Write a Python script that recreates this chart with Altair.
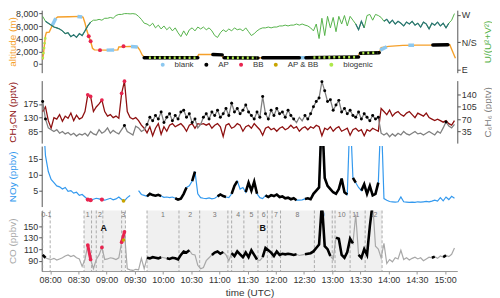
import altair as alt
import pandas as pd

FONT = "Liberation Sans"
W = 419
H1, H2, H3, H4 = 63, 63, 61, 61
X_DOMAIN = [471, 913]          # 07:51 .. 15:13 in minutes after midnight


def hm(s):
    h, m = s.split(":")
    return int(h) * 60 + int(m)


# 3-minute read-off grid (minutes after midnight) for the gas and wind series
GRID = [472 + 3 * k for k in range(147)]

# ---------------- altitude panel ----------------
ALT_T = ["07:52", "07:53", "07:54", "07:55", "07:56", "07:59", "08:01", "08:03", "08:05", "08:08",
         "08:20", "08:33", "08:35", "08:37", "08:39", "08:41", "08:43", "08:45", "08:47", "09:00",
         "09:12", "09:13", "09:25", "09:33", "09:35", "09:38", "09:41", "09:50", "10:10", "10:36",
         "10:38", "10:50", "11:02", "11:04", "11:25", "11:50", "12:20", "12:45", "13:10", "13:27",
         "13:29", "13:50", "13:52", "14:00", "14:15", "14:30", "14:50", "15:05", "15:08", "15:11"]
ALT_V = [700, 1800, 3200, 4500, 5000, 5050, 5700, 6400, 7100, 7450,
         7500, 7550, 7400, 6500, 5300, 4400, 3600, 2500, 2250, 2200,
         2250, 2700, 2800, 2700, 2300, 1400, 1000, 1000, 950, 1000,
         1500, 1500, 1450, 1000, 950, 1000, 1000, 1050, 1050, 1100,
         1700, 1800, 2600, 2800, 2950, 3000, 3000, 3050, 2000, 900]

BLANK_SEGS = [("08:02", 6050, "08:06", 7250), ("08:29", 7540, "08:34", 7450),
              ("09:00", 2200, "09:08", 2220), ("09:26", 2790, "09:33", 2700),
              ("12:25", 1000, "12:32", 1010), ("13:51", 2200, "13:58", 2750),
              ("14:21", 2980, "14:27", 2990)]
AP_SEGS = [("09:40", 1000, "10:37", 1000), ("10:53", 1500, "11:03", 1450),
           ("11:05", 980, "11:41", 970), ("11:46", 1000, "12:25", 1000),
           ("12:32", 1010, "13:28", 1100), ("13:30", 1720, "13:50", 1800),
           ("14:47", 3000, "15:03", 3040)]
BIO_SEGS = [("07:52", 800, "07:55", 4400), ("09:45", 1000, "10:35", 1000),
            ("11:08", 975, "11:40", 970), ("12:40", 1030, "13:26", 1100),
            ("13:32", 1730, "13:48", 1800)]
BB_ALT_T = ["08:41", "08:43", "08:53", "09:18"]
BB_ALT_V = [4400, 3600, 2200, 2800]

CATS = ["blank", "AP", "BB", "AP & BB", "biogenic"]
CAT_COLORS = ["#8cc8f0", "#000000", "#e8244f", "#c8a400", "#aee84a"]

# wind direction U/(U^2+V^2)  (W = 1, N/S = 0, E = -1)
WIND = [0.95, 0.77, 0.70, 0.63, 0.56, 0.53, 0.49, 0.42, 0.32, 0.35,
        0.21, 0.28, 0.18, 0.32, 0.25, 0.42, 0.60, 0.74, 0.81, 0.81,
        0.84, 0.81, 0.88, 0.88, 0.91, 0.88, 0.98, 1.02, 1.02, 1.05,
        1.05, 1.04, 1.05, 1.03, 0.95, 0.84, 0.70, 0.67, 0.60, 0.70,
        0.53, 0.63, 0.49, 0.60, 0.46, 0.56, 0.42, 0.53, 0.35, 0.21,
        0.42, 0.25, 0.46, 0.53, 0.42, 0.56, 0.49, 0.56, 0.46, 0.53,
        0.42, 0.25, 0.18, 0.35, 0.46, 0.39, 0.49, 0.42, 0.53, 0.46,
        0.49, 0.42, 0.53, 0.39, 0.25, 0.32, 0.42, 0.49, 0.53, 0.53,
        0.56, 0.53, 0.56, 0.56, 0.60, 0.60, 0.63, 0.60, 0.63, 0.63,
        0.67, 0.63, 0.67, 0.63, 0.60, 0.53, 0.42, 0.67, 0.14, 0.88,
        0.25, 0.95, 0.53, 0.91, 0.39, 0.95, 0.67, 0.98, 0.60, 0.95,
        0.81, 0.67, 0.46, 0.77, 0.53, 0.98, 1.02, 0.81, 1.02, 0.98,
        0.91, 0.77, 0.84, 0.70, 0.81, 0.67, 0.77, 0.70, 0.60, 0.74,
        0.67, 0.77, 0.63, 0.70, 0.56, 0.74, 0.67, 0.49, 0.70, 0.63,
        0.74, 0.60, 0.70, 0.53, 0.70, 0.81, 1.05]
WIND_TEAL = [(1, 17), (111, 114), (121, 144)]

# ---------------- CH3CN / C6H6 ----------------
CH3CN = [150, 165, 120, 95, 130, 125, 140, 118, 135, 128,
         145, 120, 138, 125, 130, 150, 205, 200, 150, 165,
         175, 188, 150, 135, 140, 130, 135, 128, 210, 250,
         150, 130, 125, 130, 120, 105, 95, 80, 100, 70,
         95, 110, 75, 100, 85, 105, 110, 100, 105, 110,
         100, 85, 105, 110, 95, 110, 108, 110, 105, 110,
         95, 105, 110, 100, 68, 105, 110, 95, 100, 110,
         105, 85, 100, 105, 95, 110, 100, 90, 72, 95,
         100, 90, 95, 85, 95, 100, 90, 95, 105, 95,
         100, 85, 95, 100, 90, 100, 95, 105, 100, 70,
         95, 90, 100, 85, 95, 100, 85, 90, 95, 72,
         90, 95, 85, 90, 70, 90, 85, 95, 90, 85,
         160, 150, 140, 155, 135, 145, 150, 140, 135, 145,
         150, 140, 130, 145, 140, 135, 145, 130, 125, 120,
         125, 120, 115, 120, 110, 105, 120]
CH3CN_BB = [(16, 17), (21, 21), (28, 29)]

C6H6 = [120, 70, 45, 40, 35, 40, 30, 35, 28, 32,
        25, 30, 22, 28, 25, 30, 22, 35, 28, 25,
        40, 30, 35, 45, 30, 38, 32, 28, 40, 52,
        35, 30, 25, 50, 45, 35, 40, 55, 75, 65,
        80, 70, 90, 60, 75, 85, 65, 80, 70, 90,
        95, 75, 85, 60, 70, 45, 55, 75, 85, 70,
        90, 80, 95, 75, 85, 100, 80, 115, 90, 100,
        85, 95, 110, 90, 80, 70, 90, 75, 134, 85,
        70, 95, 80, 100, 85, 90, 75, 95, 80, 70,
        60, 75, 65, 80, 70, 85, 105, 120, 130, 176,
        150, 120, 125, 95, 110, 123, 90, 100, 85, 95,
        80, 75, 90, 70, 85, 75, 65, 80, 70, 75,
        30, 25, 30, 20, 28, 22, 30, 25, 35, 28,
        25, 30, 35, 28, 30, 25, 30, 35, 30, 25,
        35, 30, 45, 62, 50, 45, 55]
C6H6_AP = [(0, 1), (29, 29), (37, 54), (57, 89), (93, 119), (143, 143)]

# ---------------- NOy ----------------
NOY = [30, 16, 11, 8.5, 7.5, 6.5, 6.2, 5.5, 6.0, 4.8,
       5.0, 4.2, 4.5, 3.5, 3.8, 3.0, 2.2, 2.0, 2.3, 2.6,
       2.4, 2.2, 2.0, 2.3, 2.6, 2.1, 2.4, 3.0, 2.2, 1.8,
       2.8, 3.5, None, None, 5.0, 3.8, 3.5, 3.2, 4.0, 3.6,
       3.4, 3.7, 3.3, 2.9, 3.0, 2.8, 3.0, 2.6, 2.2, 2.5,
       4.0, 6.0, 6.5, 8.0, 11.0, 4.0, 2.8, 2.6, 2.5, 2.7,
       2.4, 2.6, 3.2, 3.8, 3.3, 3.0, 2.8, 4.0, 6.5, 8.0,
       5.5, 6.0, 4.5, 7.5, 5.0, 7.8, 4.0, 2.8, 2.5, 3.5,
       3.0, 3.6, 3.3, 3.8, 3.0, 3.2, 2.6, 2.8, 2.3, 2.6,
       2.0, 2.0, 2.1, 2.4, 2.6, 2.3, 4.0, 5.0, 6.0, 30,
       9.0, 6.5, 5.5, 4.5, 4.0, 5.5, 8.8, 4.5, 3.8, 30,
       9.0, 7.5, 6.0, 5.0, 7.0, 4.0, 6.5, 3.5, 4.0, 7.5,
       30, 2.5, 2.0, 1.6, 1.5, 1.4, 1.5, 3.0, 1.5, 1.4,
       1.3, 1.4, 1.3, 1.5, 1.4, 1.5, 1.6, 1.5, 1.7, 2.0,
       1.7, 2.8, 1.8, 3.0, 2.2, 3.2, 2.6]
NOY_AP = [(37, 42), (47, 51), (53, 54), (62, 65), (67, 69), (72, 76), (79, 90),
          (93, 108), (110, 111), (113, 119)]
NOY_BB = [(16, 17), (21, 21)]

# ---------------- CO ----------------
CO = [100, 95, 93, 92, 94, 91, 93, 95, 98, 100,
      97, 99, 95, 93, 80, 92, 117, 92, 76, 92,
      100, 113, 92, 93, 95, 94, 92, 95, 122, 140,
      76, 74, 73, 75, 74, 94, 76, 95, 94, 96,
      95, 94, 96, 95, 94, 93, 95, 94, 92, 100,
      106, 104, 108, 101, 100, 82, 76, 78, 90, 95,
      100, 104, 106, 102, 105, 100, 90, 103, 98, 106,
      101, 96, 104, 96, 108, 100, 92, 90, 96, 112,
      108, 104, 98, 106, 100, 102, 101, 102, 101, 100,
      101, 99, 100, 101, 102, 103, 106, 112, 118, 190,
      115, 110, 98, 92, 130, 128, 100, 95, 105, 128,
      120, 170, 100, 95, 110, 100, 150, 190, 115, 110,
      95, 120, 85, 92, 88, 95, 93, 108, 92, 95,
      91, 94, 96, 93, 95, 90, 93, 96, 95, 97,
      94, 98, 96, 99, 97, 101, 112]
CO_AP = [(0, 1), (37, 42), (44, 52), (60, 64), (67, 76), (78, 90), (93, 102),
         (104, 110), (112, 117), (138, 139), (142, 143)]
CO_BB = [(16, 17), (21, 21), (28, 29)]

APBB_T = ["09:18"]
APBB_CO = [126]
APBB_NOY = [1.8]

BANDS = [("08:36", "09:20"), ("09:43", "13:53")]
SEG_LINES = ["07:52", "08:00", "08:36", "08:44", "08:49", "08:56", "09:16", "09:20",
             "09:43", "10:17", "10:39", "11:09", "11:13", "11:26", "11:41", "11:51",
             "11:56", "12:05", "12:41", "13:00", "13:03", "13:19", "13:35", "13:53"]
SEG_LABEL_T = ["07:56", "08:40", "08:53", "09:18", "10:00", "10:29", "10:55", "11:20",
               "11:34", "11:47", "12:00", "12:23", "12:50", "13:10", "13:25", "13:44"]
SEG_LABELS = ["0-1", "1", "2", "3", "1", "2", "3", "4", "5", "6", "7", "8", "9", "10", "11", "12"]
PHASE_T = ["08:57", "11:46"]
PHASE = ["A", "B"]

# colours
ORANGE = "#f5a02a"
GREEN = "#55b24a"
TEAL = "#2b7575"
DRED = "#8e1010"
GRAY = "#808080"
BLUE = "#3399ee"
COGRAY = "#a8a8a8"
RED = "#e8244f"
YEL = "#c8a400"


# ---------------- helpers ----------------
def idx_set(ranges):
    s = []
    for a, b in ranges:
        s.extend(range(a, b + 1))
    return sorted(set(s))


def base_df(values):
    rows, seg = [], 0
    for k, v in enumerate(values):
        if v is None:
            seg += 1
            continue
        rows.append({"t": GRID[k], "v": v, "seg": seg})
    return pd.DataFrame(rows)


def sub_df(values, ranges):
    rows, seg, prev = [], -1, None
    for k in idx_set(ranges):
        if prev is None or k != prev + 1:
            seg += 1
        rows.append({"t": GRID[k], "v": values[k], "seg": seg})
        prev = k
    return pd.DataFrame(rows)


def seg_df(segs):
    rows = []
    for i, (t0, v0, t1, v1) in enumerate(segs):
        rows.append({"t": hm(t0), "v": v0, "seg": i})
        rows.append({"t": hm(t1), "v": v1, "seg": i})
    return pd.DataFrame(rows)


AX = dict(tickSize=3, labelPadding=1, labelFontSize=9, labelColor="#333", domainColor="#555",
          tickColor="#555", grid=False, labelFont=FONT, titleFont=FONT, titleFontSize=10,
          titleFontWeight="normal", labelFlush=False, labelOverlap=False)

XLABEL = ("(floor(datum.value/60) < 10 ? '0' : '') + floor(datum.value/60) + ':' + "
          "(datum.value % 60 < 10 ? '0' : '') + (datum.value % 60)")
X_AXIS = alt.Axis(values=list(range(480, 901, 30)), labelExpr=XLABEL, title="time (UTC)",
                  titleColor="#333", titlePadding=3, **{**AX, "labelPadding": 2,
                                                          "domainColor": "#999",
                                                          "tickColor": "#999"})


def xe(field="t", bottom=False):
    sc = alt.Scale(domain=X_DOMAIN, nice=False, zero=False)
    if bottom:
        return alt.X(f"{field}:Q", scale=sc, axis=X_AXIS)
    return alt.X(f"{field}:Q", scale=sc, axis=None)


def ye(domain, ticks, title, color, h, side="left", label_expr=None):
    kw = dict(AX)
    if label_expr is not None:
        kw["labelExpr"] = label_expr
    ax = alt.Axis(values=ticks, title=title, titleColor=color, orient=side, titleAngle=-90,
                  titleBaseline="bottom", titleAlign="center",
                  titleX=-24 if side == "left" else 35, titleY=h / 2, **kw)
    return alt.Y("v:Q", scale=alt.Scale(domain=domain, nice=False, zero=False), axis=ax)


# ---------------- panel 1 ----------------
D1 = [-1370, 8530]
D1R = [-1.105, 1.175]
y1 = ye(D1, [0, 2000, 4000, 6000, 8000], "altitude (m)", ORANGE, H1)
y1r = ye(D1R, [-1, 0, 1], "U/(U²+V²)", GREEN, H1, side="right",
         label_expr="datum.value == 1 ? 'W' : (datum.value == 0 ? 'N/S' : 'E')")

alt_df = pd.DataFrame({"t": [hm(s) for s in ALT_T], "v": ALT_V})
bb_alt = pd.DataFrame({"t": [hm(s) for s in BB_ALT_T], "v": BB_ALT_V, "cat": "BB"})

left1 = alt.layer(
    alt.Chart(alt_df).mark_line(color=ORANGE, strokeWidth=1.4, clip=True).encode(x=xe(), y=y1),
    alt.Chart(seg_df(BLANK_SEGS)).mark_line(color=CAT_COLORS[0], strokeWidth=3.5, clip=True)
    .encode(x=xe(), y=y1, detail="seg:N"),
    alt.Chart(seg_df(AP_SEGS)).mark_line(color="#000", strokeWidth=3.5, strokeCap="round", clip=True)
    .encode(x=xe(), y=y1, detail="seg:N"),
    alt.Chart(seg_df(BIO_SEGS)).mark_line(color=CAT_COLORS[4], strokeWidth=2.6, strokeDash=[2, 3],
                                          clip=True)
    .encode(x=xe(), y=y1, detail="seg:N"),
    alt.Chart(bb_alt).mark_circle(size=16, opacity=1).encode(
        x=xe(), y=y1,
        color=alt.Color("cat:N", scale=alt.Scale(domain=CATS, range=CAT_COLORS),
                        legend=alt.Legend(title=None, orient="none", legendX=118, legendY=51,
                                          direction="horizontal", symbolType="circle",
                                          symbolSize=16, symbolStrokeWidth=0, labelFontSize=8,
                                          labelColor="#333", labelFont=FONT, labelOffset=8,
                                          columnPadding=8, padding=0))),
)
wind_df = base_df(WIND)
right1 = alt.layer(
    alt.Chart(wind_df).mark_line(color=GREEN, strokeWidth=1, clip=True).encode(x=xe(), y=y1r),
    alt.Chart(sub_df(WIND, WIND_TEAL)).mark_line(color=TEAL, strokeWidth=1.2, clip=True)
    .encode(x=xe(), y=y1r, detail="seg:N"),
)
p1 = alt.layer(left1, right1).resolve_scale(y="independent").properties(width=W, height=H1)

# ---------------- panel 2 ----------------
y2 = ye([46, 252], [85, 130, 175], "CH₃CN (pptv)", DRED, H2)
y2r = ye([2, 179], [35, 70, 105, 140], "C₆H₆ (pptv)", GRAY, H2, side="right")
left2 = alt.layer(
    alt.Chart(base_df(CH3CN)).mark_line(color=DRED, strokeWidth=1.3, clip=True).encode(x=xe(), y=y2),
    alt.Chart(sub_df(CH3CN, CH3CN_BB)).mark_circle(color=RED, size=14, opacity=1).encode(x=xe(), y=y2),
)
right2 = alt.layer(
    alt.Chart(base_df(C6H6)).mark_line(color=GRAY, strokeWidth=1.3, clip=True).encode(x=xe(), y=y2r),
    alt.Chart(sub_df(C6H6, C6H6_AP)).mark_circle(color="#000", size=9, opacity=1).encode(x=xe(), y=y2r),
)
p2 = alt.layer(left2, right2).resolve_scale(y="independent").properties(width=W, height=H2)

# ---------------- panel 3 ----------------
y3 = ye([0, 19], [5, 10, 15], "NOy (ppbv)", BLUE, H3)
apbb_noy = pd.DataFrame({"t": [hm(s) for s in APBB_T], "v": APBB_NOY})
p3 = alt.layer(
    alt.Chart(base_df(NOY)).mark_line(color=BLUE, strokeWidth=1.2, clip=True)
    .encode(x=xe(), y=y3, detail="seg:N"),
    alt.Chart(sub_df(NOY, NOY_AP)).mark_line(color="#000", strokeWidth=2.6, clip=True)
    .encode(x=xe(), y=y3, detail="seg:N"),
    alt.Chart(sub_df(NOY, NOY_BB)).mark_circle(color=RED, size=18, opacity=1).encode(x=xe(), y=y3),
    alt.Chart(apbb_noy).mark_circle(color=YEL, size=14, opacity=1).encode(x=xe(), y=y3),
).properties(width=W, height=H3)

# ---------------- panel 4 ----------------
y4 = ye([72, 177], [90, 110, 130, 150], "CO (ppbv)", COGRAY, H4)
bands = pd.DataFrame({"t": [hm(a) for a, b in BANDS], "t1": [hm(b) for a, b in BANDS]})
lines = pd.DataFrame({"t": [hm(s) for s in SEG_LINES]})
labs = pd.DataFrame({"t": [hm(s) for s in SEG_LABEL_T], "lab": SEG_LABELS})
phase = pd.DataFrame({"t": [hm(s) for s in PHASE_T], "lab": PHASE})
apbb_co = pd.DataFrame({"t": [hm(s) for s in APBB_T], "v": APBB_CO})
p4 = alt.layer(
    alt.Chart(bands).mark_rect(color="#f0f0f0").encode(
        x=xe(bottom=True), x2="t1:Q", y=alt.value(0), y2=alt.value(H4)),
    alt.Chart(lines).mark_rule(color="#999", strokeDash=[3, 2], strokeWidth=0.8).encode(
        x=xe(bottom=True), y=alt.value(0), y2=alt.value(H4)),
    alt.Chart(labs).mark_text(fontSize=7, color="#777", baseline="middle", font=FONT).encode(
        x=xe(bottom=True), y=alt.value(5), text="lab:N"),
    alt.Chart(base_df(CO)).mark_line(color=COGRAY, strokeWidth=1.2, clip=True)
    .encode(x=xe(bottom=True), y=y4),
    alt.Chart(sub_df(CO, CO_AP)).mark_line(color="#000", strokeWidth=2.6, clip=True)
    .encode(x=xe(bottom=True), y=y4, detail="seg:N"),
    alt.Chart(sub_df(CO, CO_BB)).mark_line(color=RED, strokeWidth=3, clip=True)
    .encode(x=xe(bottom=True), y=y4, detail="seg:N"),
    alt.Chart(sub_df(CO, CO_BB)).mark_circle(color=RED, size=14, opacity=1)
    .encode(x=xe(bottom=True), y=y4),
    alt.Chart(apbb_co).mark_circle(color=YEL, size=12, opacity=1).encode(x=xe(bottom=True), y=y4),
    alt.Chart(phase).mark_text(fontSize=9, fontWeight="bold", color="#111", baseline="middle",
                               font=FONT).encode(x=xe(bottom=True), y=alt.value(18), text="lab:N"),
).properties(width=W, height=H4)

chart = (
    alt.vconcat(p1, p2, p3, p4, spacing=3)
    .properties(padding=0)
    .configure(font=FONT)
    .configure_view(strokeWidth=0)
)
chart.save("out.html", embed_options={"renderer": "svg", "actions": False})
